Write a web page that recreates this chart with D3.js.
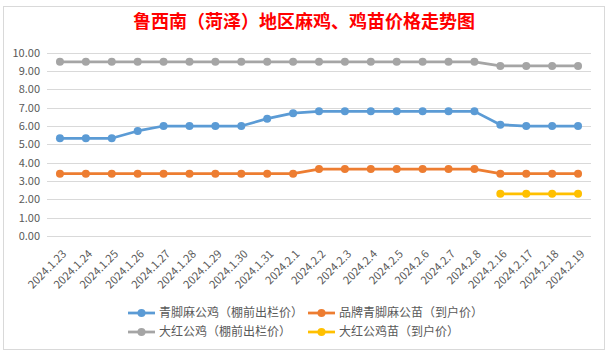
<!DOCTYPE html>
<html lang="zh">
<head>
<meta charset="UTF-8">
<title>鲁西南（菏泽）地区麻鸡、鸡苗价格走势图</title>
<script src="https://d3js.org/d3.v7.min.js"></script>
<style>
  body { margin: 0; background: #fff; }
  svg { display: block; font-family: "Noto Sans CJK SC", "Noto Sans", sans-serif; }
</style>
</head>
<body>
<script>
// categories and series
const categories = ["2024.1.23", "2024.1.24", "2024.1.25", "2024.1.26", "2024.1.27", "2024.1.28",
  "2024.1.29", "2024.1.30", "2024.1.31", "2024.2.1", "2024.2.2", "2024.2.3", "2024.2.4",
  "2024.2.5", "2024.2.6", "2024.2.7", "2024.2.8", "2024.2.16", "2024.2.17", "2024.2.18", "2024.2.19"];

const seriesNames = ["青脚麻公鸡（棚前出栏价）", "品牌青脚麻公苗（到户价）", "大红公鸡（棚前出栏价）", "大红公鸡苗（到户价）"];
const blueValues   = [5.33, 5.33, 5.33, 5.73, 6.0, 6.0, 6.0, 6.0, 6.4, 6.7, 6.8, 6.8, 6.8, 6.8, 6.8, 6.8, 6.8, 6.07, 6.0, 6.0, 6.0];
const orangeValues = [3.4, 3.4, 3.4, 3.4, 3.4, 3.4, 3.4, 3.4, 3.4, 3.4, 3.65, 3.65, 3.65, 3.65, 3.65, 3.65, 3.65, 3.4, 3.4, 3.4, 3.4];
const grayValues   = [9.5, 9.5, 9.5, 9.5, 9.5, 9.5, 9.5, 9.5, 9.5, 9.5, 9.5, 9.5, 9.5, 9.5, 9.5, 9.5, 9.5, 9.28, 9.28, 9.28, 9.28];
const yellowValues = [null, null, null, null, null, null, null, null, null, null, null, null, null, null, null, null, null, 2.3, 2.3, 2.3, 2.3];
const yTicks = [0, 1, 2, 3, 4, 5, 6, 7, 8, 9, 10];

const colors = ["#5B9BD5", "#ED7D31", "#A5A5A5", "#FFC000"];
const series = [blueValues, orangeValues, grayValues, yellowValues];

const width = 608, height = 354;
const svg = d3.select("body").append("svg")
  .attr("width", width)
  .attr("height", height);

// chart frame
svg.append("rect")
  .attr("x", 3.5).attr("y", 6.5)
  .attr("width", 601).attr("height", 343)
  .attr("fill", "#fff")
  .attr("stroke", "#D9D9D9");

svg.append("text")
  .attr("x", 304).attr("y", 28)
  .attr("text-anchor", "middle")
  .attr("font-size", 18)
  .attr("font-weight", "bold")
  .attr("fill", "#FF0000")
  .text("鲁西南（菏泽）地区麻鸡、鸡苗价格走势图");

const x = d3.scalePoint()
  .domain(categories)
  .range([47, 591])
  .padding(0.5);

const y = d3.scaleLinear()
  .domain([0, 10])
  .range([236, 52.7]);

// gridlines
svg.append("g")
  .selectAll("line")
  .data(yTicks)
  .enter().append("line")
  .attr("x1", 47).attr("x2", 591)
  .attr("y1", d => Math.round(y(d)) + 0.5)
  .attr("y2", d => Math.round(y(d)) + 0.5)
  .attr("stroke", "#D9D9D9")
  .attr("stroke-width", 1);

// y axis labels
const yAxis = svg.append("g")
  .attr("transform", "translate(47,0)")
  .call(d3.axisLeft(y).tickValues(yTicks).tickFormat(d3.format(".2f")).tickSize(0).tickPadding(7));
yAxis.select(".domain").remove();
yAxis.selectAll("text").attr("font-size", 11).attr("fill", "#595959")
  .attr("font-family", "\"Noto Sans CJK SC\", sans-serif");

// x axis labels
const xAxis = svg.append("g")
  .attr("transform", "translate(0,236)")
  .call(d3.axisBottom(x).tickSize(0).tickPadding(0));
xAxis.select(".domain").remove();
xAxis.selectAll("text")
  .attr("font-size", 11)
  .attr("fill", "#595959")
  .attr("font-family", "\"Noto Sans CJK SC\", sans-serif")
  .attr("text-anchor", "end")
  .attr("dy", "0.35em")
  .attr("transform", "translate(4,16) rotate(-45)");

// lines and markers
series.forEach((vals, i) => {
  const pts = categories.map((c, j) => ({ c: c, v: vals[j] }));
  const line = d3.line()
    .defined(d => d.v != null)
    .x(d => x(d.c))
    .y(d => y(d.v));
  svg.append("path")
    .datum(pts)
    .attr("fill", "none")
    .attr("stroke", colors[i])
    .attr("stroke-width", 2.75)
    .attr("stroke-linejoin", "round")
    .attr("d", line);
  svg.append("g")
    .selectAll("circle")
    .data(pts.filter(d => d.v != null))
    .enter().append("circle")
    .attr("cx", d => x(d.c))
    .attr("cy", d => y(d.v))
    .attr("r", 4)
    .attr("fill", colors[i]);
});

// legend
const legendPos = [[128, 313], [308, 313], [128, 332], [308, 332]];
const legend = svg.append("g");
seriesNames.forEach((name, i) => {
  const [lx, ly] = legendPos[i];
  const g = legend.append("g").attr("transform", `translate(${lx},${ly})`);
  g.append("line")
    .attr("x1", 0).attr("x2", 27)
    .attr("stroke", colors[i]).attr("stroke-width", 2.75);
  g.append("circle").attr("cx", 13.5).attr("r", 4).attr("fill", colors[i]);
  g.append("text")
    .attr("x", 31).attr("dy", "0.35em")
    .attr("font-size", 12)
    .attr("fill", "#595959")
    .text(name);
});
</script>
</body>
</html>
